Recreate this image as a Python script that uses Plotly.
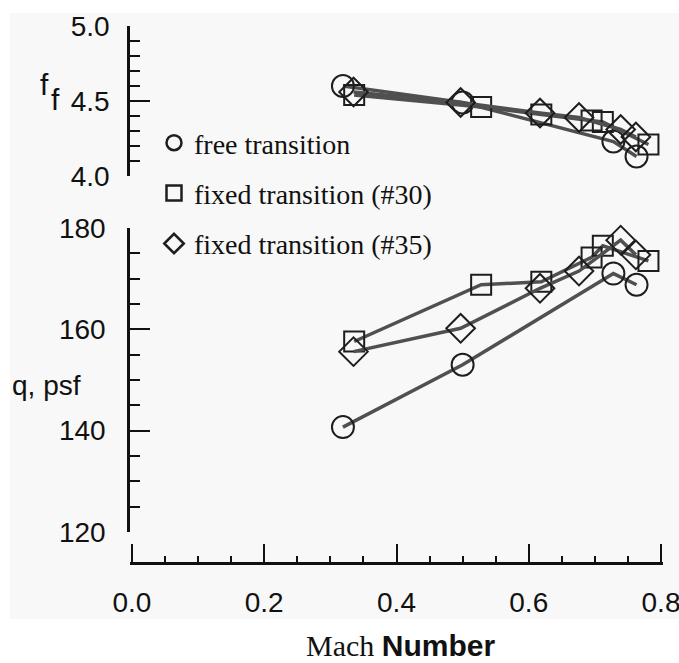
import plotly.graph_objects as go

# ---- data ----
mach_free = [0.319, 0.500, 0.728, 0.763]
ff_free = [4.60, 4.49, 4.23, 4.13]
q_free = [140.7, 153.0, 171.0, 168.8]

mach_30 = [0.336, 0.528, 0.619, 0.695, 0.712, 0.781]
ff_30 = [4.54, 4.46, 4.41, 4.37, 4.36, 4.21]
q_30 = [157.6, 168.8, 169.4, 174.2, 176.5, 173.5]

mach_35 = [0.335, 0.497, 0.617, 0.676, 0.739, 0.762]
ff_35 = [4.56, 4.49, 4.42, 4.39, 4.31, 4.26]
q_35 = [155.6, 160.2, 168.1, 171.5, 177.6, 174.7]

series = [
    ("free transition", mach_free, ff_free, q_free, "circle-open", 22),
    ("fixed transition (#30)", mach_30, ff_30, q_30, "square-open", 20),
    ("fixed transition (#35)", mach_35, ff_35, q_35, "diamond-open", 22),
]

LINE_C = "#505050"
MARK_C = "#1e1e1e"
INK = "#111111"

fig = go.Figure()
for i, (name, m, ff, q, sym, sz) in enumerate(series):
    for yv, ya in ((ff, "y2"), (q, "y")):
        fig.add_trace(go.Scatter(
            x=m, y=yv, xaxis="x", yaxis=ya, mode="lines+markers",
            line=dict(color=LINE_C, width=3.5),
            marker=dict(symbol=sym, size=sz, color=MARK_C, line=dict(width=2, color=MARK_C)),
            showlegend=False, cliponaxis=False, hoverinfo="skip"))
    # legend-only entry (marker only)
    fig.add_trace(go.Scatter(
        x=[None], y=[None], xaxis="x", yaxis="y", mode="markers", name=name,
        legendgroup=name,
        marker=dict(symbol=sym, size=15, color=MARK_C, line=dict(width=2.5, color=MARK_C))))

tickfont = dict(family="Liberation Sans, Arial, sans-serif", size=28, color=INK)
axis_common = dict(showline=True, linewidth=2.5, linecolor=INK, ticks="inside",
                   tickwidth=2, tickcolor=INK, showgrid=False, zeroline=False,
                   tickfont=tickfont, automargin=False)

L, R, T, B = 130, 16, 26, 100
PW = 679 - L - R
PH = 663 - T - B

def px(xp):
    return (xp - L) / PW

def py(yp):
    return (663 - B - yp) / PH

fig.update_layout(
    width=679, height=663,
    margin=dict(l=L, r=R, t=T, b=B, autoexpand=False),
    paper_bgcolor="white", plot_bgcolor="rgba(0,0,0,0)",
    xaxis=dict(domain=[0, 1], range=[-0.003, 0.803], anchor="free", position=0,
               dtick=0.2, tick0=0, tickformat=".1f", ticklen=18,
               minor=dict(dtick=0.05, ticklen=6, tickwidth=2, tickcolor=INK, ticks="inside"),
               ticklabelstandoff=14, ticklabeloverflow="allow", **axis_common),
    yaxis=dict(domain=[py(532), py(228)], range=[120, 180], anchor="x",
               dtick=20, tick0=120, ticklen=20,
               minor=dict(dtick=5, ticklen=10, tickwidth=2, tickcolor=INK, ticks="inside"),
               ticklabelstandoff=16, **axis_common),
    yaxis2=dict(domain=[py(176), 1], range=[4.0, 5.0], anchor="x",
                dtick=0.5, tick0=4.0, tickformat=".1f", ticklen=20,
                minor=dict(dtick=0.1, ticklen=10, tickwidth=2, tickcolor=INK, ticks="inside"),
                ticklabelstandoff=12, **axis_common),
    legend=dict(x=px(154), y=py(118), xanchor="left", yanchor="top",
                bgcolor="rgba(0,0,0,0)", tracegroupgap=11,
                font=dict(family="Liberation Serif, Times New Roman, serif", size=28, color=INK)),
    shapes=[dict(type="rect", xref="paper", yref="paper", layer="below",
                 x0=px(10), x1=px(679), y0=py(619), y1=py(13),
                 fillcolor="#f8f8f8", line=dict(width=0))],
    annotations=[
        dict(text="f", xref="paper", yref="paper", x=px(44), y=py(84),
             xanchor="center", yanchor="middle",
             showarrow=False, font=dict(family="Liberation Sans, Arial", size=30, color=INK)),
        dict(text="f", xref="paper", yref="paper", x=px(55), y=py(100),
             xanchor="center", yanchor="middle",
             showarrow=False, font=dict(family="Liberation Sans, Arial", size=30, color=INK)),
        dict(text="q, psf", xref="paper", yref="paper", x=px(46), y=py(385),
             xanchor="center", yanchor="middle",
             showarrow=False, font=dict(family="Liberation Sans, Arial", size=28, color=INK)),
        dict(text="Mach <span style='font-family:Liberation Sans, Arial'><b>Number</b></span>",
             xref="paper", yref="paper", x=px(400), y=py(646),
             xanchor="center", yanchor="middle",
             showarrow=False, font=dict(family="Liberation Serif, Times New Roman, serif", size=30, color=INK)),
    ],
)

fig.write_html("out.html")
